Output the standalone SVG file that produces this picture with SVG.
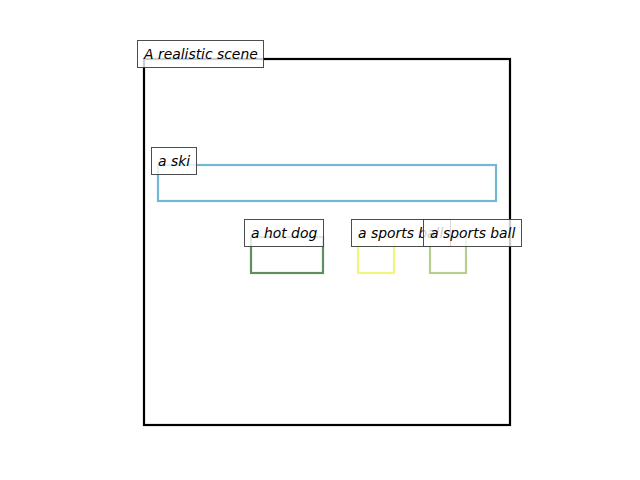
<svg xmlns="http://www.w3.org/2000/svg" width="640" height="480" viewBox="0 0 640 480">
<style>
.lbl rect{fill:#fff;fill-opacity:0.8;stroke:#3a3a3a;stroke-opacity:0.9;stroke-width:1}
.lbl text{font-family:"DejaVu Sans",sans-serif;font-style:oblique;font-size:13.9px;fill:#000}
.box{fill:none;stroke-width:2.2}
</style>
<rect width="640" height="480" fill="#fff"/>
<g id="scene">
<rect class="box" x="144" y="59" width="366" height="366" stroke="#000" stroke-width="2"/>
</g>
<g id="ski">
<rect class="box" x="158" y="165" width="338" height="36" stroke="#72b8d6"/>
</g>
<g id="hotdog">
<rect class="box" x="251" y="237" width="72" height="36" stroke="#5f8f5f"/>
</g>
<g id="ball1">
<rect class="box" x="358" y="237" width="36" height="36" stroke="#eef77c"/>
</g>
<g id="ball2">
<rect class="box" x="430" y="237" width="36" height="36" stroke="#b5cf8f"/>
</g>
<g id="labels">
<g class="lbl" id="label-scene"><rect x="137.5" y="40.5" width="126" height="27"/><text x="144" y="59">A realistic scene</text></g>
<g class="lbl" id="label-ski"><rect x="151.5" y="147.5" width="45" height="27"/><text x="158" y="166">a ski</text></g>
<g class="lbl" id="label-hotdog"><rect x="244.5" y="219.5" width="79" height="27"/><text x="251" y="238">a hot dog</text></g>
<g class="lbl" id="label-ball1"><rect x="351.5" y="219.5" width="99" height="27"/><text x="358" y="238">a sports ball</text></g>
<g class="lbl" id="label-ball2"><rect x="423.5" y="219.5" width="98" height="27"/><text x="430" y="238">a sports ball</text></g>
</g>
</svg>
